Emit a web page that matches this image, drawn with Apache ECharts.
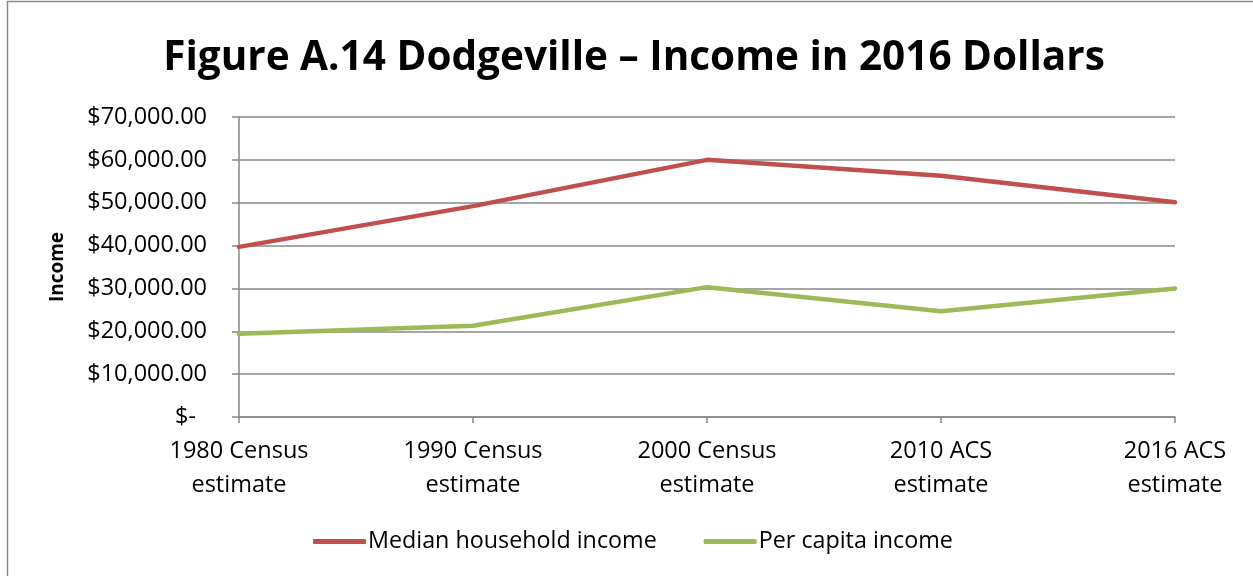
<!DOCTYPE html>
<html>
<head>
<meta charset="utf-8">
<title>Figure A.14 Dodgeville – Income in 2016 Dollars</title>
<script src="https://cdn.jsdelivr.net/npm/echarts@6/dist/echarts.min.js"></script>
<style>
  html, body { margin: 0; padding: 0; background: #fff; }
  #chart { width: 1253px; height: 576px; }
</style>
</head>
<body>
<div id="chart"></div>
<script>
// Survey periods along the x axis
const categories = [
  '1980 Census\nestimate',
  '1990 Census\nestimate',
  '2000 Census\nestimate',
  '2010 ACS\nestimate',
  '2016 ACS\nestimate'
];

// Income in 2016 dollars
const medianHouseholdIncome = [39700, 49200, 60000, 56300, 50100];
const perCapitaIncome = [19400, 21300, 30300, 24700, 30000];

// Value axis range
const yMin = 0;
const yMax = 70000;
const yStep = 10000;

const FONT = '"Open Sans", "Noto Sans", sans-serif';
const GRID_GRAY = '#888888';
const TICK_FONT_SIZE = 23.5;

function formatDollars(v) {
  if (v === 0) return '{z|$-}';
  return '$' + v.toLocaleString('en-US', { minimumFractionDigits: 2, maximumFractionDigits: 2 });
}

const chart = echarts.init(document.getElementById('chart'), null, { renderer: 'canvas' });

chart.setOption({
  backgroundColor: '#ffffff',
  animation: false,
  title: {
    text: 'Figure A.14 Dodgeville – Income in 2016 Dollars',
    left: 629,
    textAlign: 'center',
    top: 33,
    textStyle: {
      fontFamily: FONT,
      fontWeight: 'bold',
      fontSize: 40.5,
      color: '#000000'
    }
  },
  grid: {
    left: 239,
    right: 78,
    top: 117,
    bottom: 159,
    containLabel: false
  },
  legend: {
    orient: 'horizontal',
    bottom: 18,
    left: 308,
    width: 760,
    itemWidth: 53,
    itemHeight: 5,
    itemGap: 47,
    icon: 'roundRect',
    textStyle: {
      fontFamily: FONT,
      fontSize: 23.3,
      color: '#000000',
      padding: [0, 0, 0, -3]
    },
    data: ['Median household income', 'Per capita income']
  },
  xAxis: {
    type: 'category',
    boundaryGap: false,
    data: categories,
    axisLine: { show: true, lineStyle: { color: GRID_GRAY, width: 1.5 } },
    axisTick: { show: true, length: 6, alignWithLabel: true, lineStyle: { color: GRID_GRAY, width: 1.5 } },
    splitLine: { show: false },
    axisLabel: {
      fontFamily: FONT,
      fontSize: TICK_FONT_SIZE,
      lineHeight: 34,
      color: '#000000',
      margin: 17,
      interval: 0
    }
  },
  yAxis: {
    type: 'value',
    min: yMin,
    max: yMax,
    interval: yStep,
    axisLine: { show: true, lineStyle: { color: GRID_GRAY, width: 1.5 } },
    axisTick: { show: true, length: 7, lineStyle: { color: GRID_GRAY, width: 1.5 } },
    splitLine: { show: true, lineStyle: { color: GRID_GRAY, width: 1.5 } },
    axisLabel: {
      fontFamily: FONT,
      fontSize: TICK_FONT_SIZE,
      color: '#000000',
      margin: 32,
      formatter: formatDollars,
      rich: {
        z: { fontFamily: FONT, fontSize: TICK_FONT_SIZE, color: '#000000', padding: [0, 11, 0, 0] }
      }
    }
  },
  graphic: [
    {
      type: 'rect',
      silent: true,
      shape: { x: 7.5, y: 1.5, width: 1400, height: 800 },
      style: { fill: 'none', stroke: '#8a8a8a', lineWidth: 1.5 }
    },
    {
      type: 'text',
      silent: true,
      x: 58,
      y: 267,
      rotation: Math.PI / 2,
      style: {
        text: 'Income',
        fontFamily: FONT,
        fontWeight: 'bold',
        fontSize: 19,
        fill: '#000000',
        align: 'center',
        verticalAlign: 'middle'
      }
    }
  ],
  series: [
    {
      name: 'Median household income',
      type: 'line',
      data: medianHouseholdIncome,
      showSymbol: false,
      symbol: 'none',
      lineStyle: { color: '#C0504D', width: 4.5, cap: 'round', join: 'round' },
      itemStyle: { color: '#C0504D' }
    },
    {
      name: 'Per capita income',
      type: 'line',
      data: perCapitaIncome,
      showSymbol: false,
      symbol: 'none',
      lineStyle: { color: '#9BBB59', width: 4.5, cap: 'round', join: 'round' },
      itemStyle: { color: '#9BBB59' }
    }
  ]
});
</script>
</body>
</html>
